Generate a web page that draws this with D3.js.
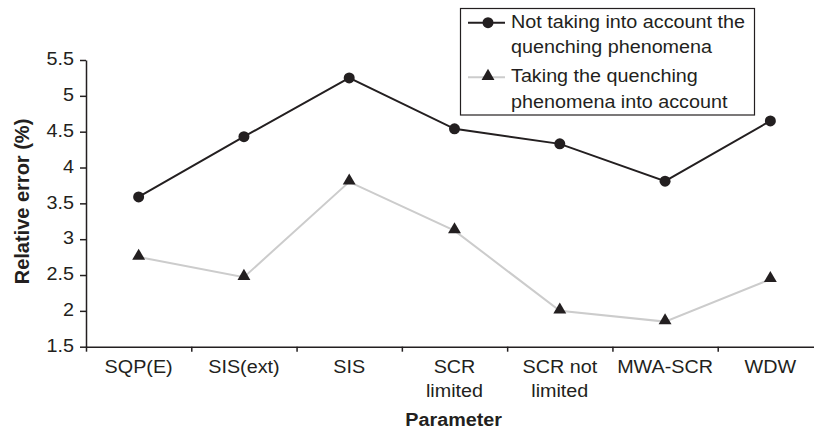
<!DOCTYPE html>
<html>
<head>
<meta charset="utf-8">
<script src="https://cdn.jsdelivr.net/npm/d3@7"></script>
<style>
  html, body { margin: 0; padding: 0; background: #fff; }
  svg { display: block; font-family: "Liberation Sans", Arial, sans-serif; }
</style>
</head>
<body>
<svg id="chart" width="814" height="430"></svg>
<script>
// Relative error per parameter, with and without the quenching phenomena
const categories = ["SQP(E)", "SIS(ext)", "SIS", "SCR limited", "SCR not limited", "MWA-SCR", "WDW"];
const notQuenching = [3.59, 4.43, 5.25, 4.54, 4.33, 3.81, 4.65];
const withQuenching = [2.75, 2.47, 3.80, 3.12, 2.00, 1.85, 2.44];
const yTicks = [1.5, 2, 2.5, 3, 3.5, 4, 4.5, 5, 5.5];
const seriesNames = ["Not taking into account the quenching phenomena", "Taking the quenching phenomena into account"];
const legendLines = [["Not taking into account the", "quenching phenomena"], ["Taking the quenching", "phenomena into account"]];

const ink = "#231f20";
const grey = "#cccccc";
const fontSize = 17.5;
const sx = 1.13;            // horizontal widening of the lettering

const svg = d3.select("#chart");

const plot = { left: 86, right: 823, top: 60, bottom: 346.7 };

const x = d3.scaleBand().domain(categories).range([plot.left, plot.right]).padding(0);
const xEdges = d3.scaleLinear().domain([0, categories.length]).range([plot.left, plot.right]);
const y = d3.scaleLinear().domain([1.5, 5.5]).range([plot.bottom, plot.top]);

// Horizontal text, widened by sx around its anchor point
function wideText(parent, px, py, anchor) {
  return parent.append("g")
    .attr("transform", `translate(${px},${py}) scale(${sx},1)`)
    .append("text")
    .attr("x", 0).attr("y", 0)
    .attr("text-anchor", anchor)
    .attr("font-size", fontSize)
    .attr("fill", ink);
}

// Y axis
const yAxis = svg.append("g")
  .attr("transform", `translate(${plot.left},0)`)
  .call(d3.axisLeft(y).tickValues(yTicks).tickSize(6).tickSizeOuter(0).tickPadding(6).tickFormat(d3.format("")));
yAxis.select(".domain").attr("stroke", ink).attr("stroke-width", 1.5);
yAxis.selectAll(".tick line").attr("stroke", ink).attr("stroke-width", 1.5);
yAxis.selectAll(".tick text")
  .attr("fill", ink)
  .attr("font-size", fontSize)
  .attr("font-family", "Liberation Sans, Arial, sans-serif")
  .attr("x", -12 / sx)
  .attr("dy", "0.27em")
  .attr("transform", `scale(${sx},1)`);

// X axis: ticks sit on the category boundaries
const xAxis = svg.append("g")
  .attr("transform", `translate(0,${plot.bottom})`)
  .call(d3.axisBottom(xEdges).tickValues(d3.range(categories.length + 1)).tickSize(5).tickSizeOuter(0).tickFormat(""));
xAxis.select(".domain").attr("stroke", ink).attr("stroke-width", 1.5);
xAxis.selectAll(".tick line").attr("stroke", ink).attr("stroke-width", 1.5);

// Category labels, long names wrapped onto two lines
function wrapLabel(s) {
  if (s.length <= 8 || s.indexOf(" ") < 0) return [s];
  const i = s.lastIndexOf(" ");
  return [s.slice(0, i), s.slice(i + 1)];
}
const cx = d => x(d) + x.bandwidth() / 2;
const catGroup = svg.append("g");
categories.forEach(c => {
  const t = wideText(catGroup, cx(c), plot.bottom + 26.6, "middle");
  wrapLabel(c).forEach((ln, i) => {
    t.append("tspan").attr("x", 0).attr("dy", i === 0 ? 0 : 23.4).text(ln);
  });
});

// Axis titles
wideText(svg, 453.7, 426, "middle")
  .attr("font-weight", "bold")
  .text("Parameter");

svg.append("text")
  .attr("transform", `translate(29,201.5) rotate(-90)`)
  .attr("text-anchor", "middle")
  .attr("font-size", 20)
  .attr("font-weight", "bold")
  .attr("fill", ink)
  .text("Relative error (%)");

// Lines
const line = d3.line().x(d => cx(d[0])).y(d => y(d[1]));
const tri = d3.symbol().type(d3.symbolTriangle).size(72);

const grp2 = svg.append("g");
const pts2 = categories.map((c, i) => [c, withQuenching[i]]);
grp2.append("path")
  .datum(pts2)
  .attr("d", line)
  .attr("fill", "none")
  .attr("stroke", grey)
  .attr("stroke-width", 2);
grp2.selectAll("path.mk")
  .data(pts2)
  .join("path")
  .attr("class", "mk")
  .attr("d", tri)
  .attr("transform", d => `translate(${cx(d[0])},${y(d[1]) - 1})`)
  .attr("fill", ink);

const grp1 = svg.append("g");
const pts1 = categories.map((c, i) => [c, notQuenching[i]]);
grp1.append("path")
  .datum(pts1)
  .attr("d", line)
  .attr("fill", "none")
  .attr("stroke", ink)
  .attr("stroke-width", 2);
grp1.selectAll("circle")
  .data(pts1)
  .join("circle")
  .attr("cx", d => cx(d[0]))
  .attr("cy", d => y(d[1]))
  .attr("r", 5.5)
  .attr("fill", ink);

// Legend
const legend = svg.append("g");
legend.append("rect")
  .attr("x", 460.5).attr("y", 8.5).attr("width", 294).attr("height", 106.5)
  .attr("fill", "#fff").attr("stroke", ink).attr("stroke-width", 1.2);
const legendY = [22.7, 77.3];
seriesNames.forEach((name, i) => {
  const g = legend.append("g").attr("class", "legend-item").attr("data-name", name);
  g.append("line")
    .attr("x1", 468).attr("x2", 505).attr("y1", legendY[i]).attr("y2", legendY[i])
    .attr("stroke", i === 0 ? ink : grey).attr("stroke-width", 2);
  if (i === 0) {
    g.append("circle").attr("cx", 488).attr("cy", legendY[i]).attr("r", 5.5).attr("fill", ink);
  } else {
    g.append("path").attr("d", tri).attr("transform", `translate(488,${legendY[i] - 1})`).attr("fill", ink);
  }
  const t = wideText(g, 511, legendY[i] + 4.8, "start");
  legendLines[i].forEach((ln, j) => {
    t.append("tspan").attr("x", 0).attr("y", j * 25.7).text(ln);
  });
});
</script>
</body>
</html>
